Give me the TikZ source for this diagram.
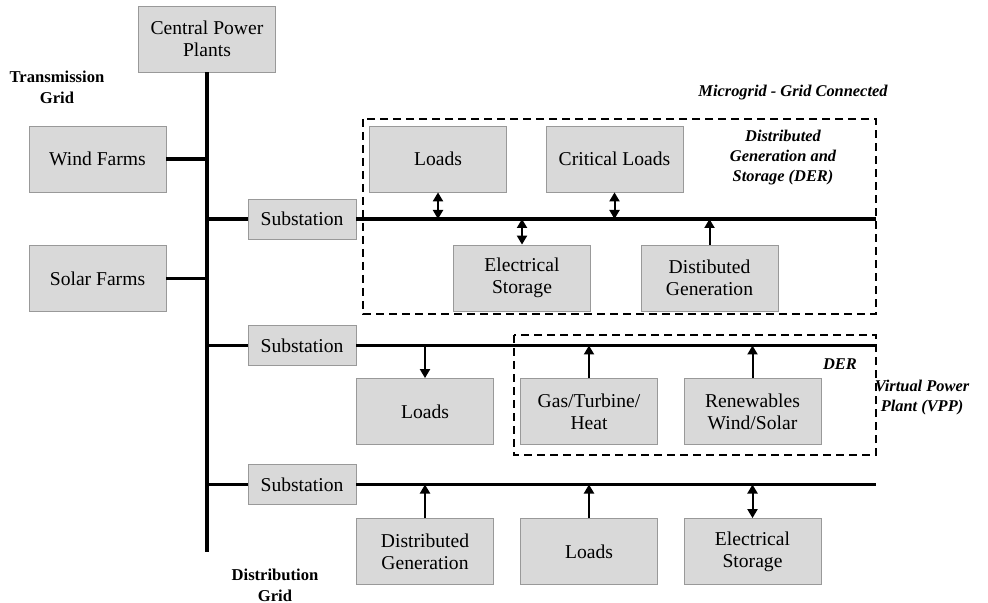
\documentclass[tikz,border=0pt]{standalone}
\usepackage{fontspec}
\setmainfont{Liberation Serif}
\usetikzlibrary{arrows.meta}

\begin{document}
\begin{tikzpicture}[
    x=0.5pt, y=-0.5pt,
    >={Triangle[length=4.5pt,width=5pt]},
    unit/.style={
        draw=gray!80,
        fill=gray!30,
        minimum width=68.5pt,
        minimum height=33pt,
        align=center,
        inner sep=1pt,
        font=\fontsize{9.8}{11}\selectfont
    },
    substation/.style={
        unit,
        minimum width=54pt,
        minimum height=20pt
    },
    gridlabel/.style={
        align=center,
        font=\fontsize{8.3}{10.5}\selectfont\bfseries
    },
    zonelabel/.style={
        align=center,
        font=\fontsize{8.2}{10}\selectfont\bfseries\itshape
    },
    zone/.style={
        draw,
        line width=0.75pt,
        dash pattern=on 4pt off 2.5pt
    },
    bus/.style={line width=1.6pt},
    feed/.style={line width=1pt}
]
\useasboundingbox (0,0) rectangle (988,603);

% transmission side
\node[unit] (central) at (207,39) {Central Power\\Plants};
\node[unit] (wind) at (97.5,159) {Wind Farms};
\node[unit] (solar) at (97.5,278.5) {Solar Farms};
\node[gridlabel] (transmission) at (57,87) {Transmission\\Grid};
\coordinate (gridend) at (207,552);

\draw[bus] (central.south) -- (gridend);
\draw[bus] (wind.east) -- (wind.east -| gridend);
\draw[bus] (solar.east) -- (solar.east -| gridend);

% substations
\node[substation] (subA) at (302,219) {Substation};
\node[substation] (subB) at (302,345.5) {Substation};
\node[substation] (subC) at (302,484.5) {Substation};
\coordinate (busA) at (876,219);
\coordinate (busB) at (876,345.5);
\coordinate (busC) at (876,484.5);

\foreach \s/\b in {subA/busA, subB/busB, subC/busC} {
    \draw[bus] (\s.west -| gridend) -- (\s.west);
    \draw[bus] (\s.east) -- (\b);
}

% microgrid - grid connected
\draw[zone] (363,119) rectangle (876,314);
\node[zonelabel] (microgrid) at (793,93) {Microgrid - Grid Connected};
\node[zonelabel] (der) at (783,158) {Distributed\\Generation and\\Storage (DER)};
\node[unit] (loadsA) at (438,159) {Loads};
\node[unit] (critical) at (614.5,159) {Critical Loads};
\node[unit] (storageA) at (522,278) {Electrical\\Storage};
\node[unit] (genA) at (709.5,278) {Distibuted\\Generation};

\draw[feed,<->] (loadsA.south) -- (loadsA.south |- busA);
\draw[feed,<->] (critical.south) -- (critical.south |- busA);
\draw[feed,<->] (storageA.north) -- (storageA.north |- busA);
\draw[feed,->] (genA.north) -- (genA.north |- busA);

% virtual power plant
\draw[zone] (514,335) rectangle (876,455);
\node[zonelabel] (derB) at (840,364) {DER};
\node[zonelabel] (vpp) at (922,398) {Virtual Power\\Plant (VPP)};
\node[unit] (loadsB) at (425,411.5) {Loads};
\node[unit] (gas) at (589,411.5) {Gas/Turbine/\\Heat};
\node[unit] (renew) at (752.5,411.5) {Renewables\\Wind/Solar};

\draw[feed,->] (loadsB.north |- busB) -- (loadsB.north);
\draw[feed,->] (gas.north) -- (gas.north |- busB);
\draw[feed,->] (renew.north) -- (renew.north |- busB);

% distribution grid
\node[unit] (genC) at (425,551.5) {Distributed\\Generation};
\node[unit] (loadsC) at (589,551.5) {Loads};
\node[unit] (storageC) at (752.5,551.5) {Electrical\\Storage};
\node[gridlabel] (distribution) at (275,585) {Distribution\\Grid};

\draw[feed,->] (genC.north) -- (genC.north |- busC);
\draw[feed,->] (loadsC.north) -- (loadsC.north |- busC);
\draw[feed,<->] (storageC.north) -- (storageC.north |- busC);

\end{tikzpicture}
\end{document}
